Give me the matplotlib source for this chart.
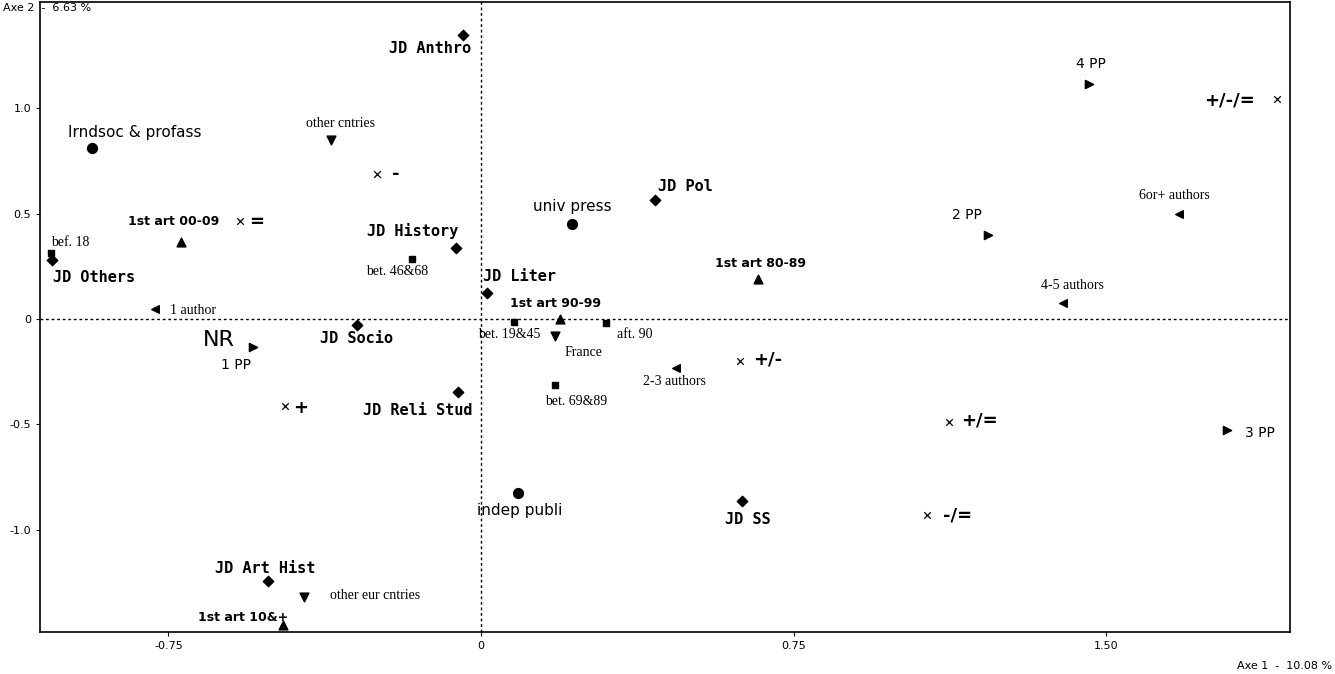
import matplotlib
matplotlib.use("Agg")
import matplotlib.pyplot as plt

# ---- data ----
circle_labels = ["Irndsoc & profass", "univ press", "indep publi"]
circle_x = [-0.933, 0.218, 0.089]
circle_y = [0.813, 0.449, -0.823]

diamond_labels = ["JD Anthro", "JD Pol", "JD History", "JD Others", "JD Liter", "JD Socio",
                  "JD Reli Stud", "JD SS", "JD Art Hist"]
diamond_x = [-0.043, 0.417, -0.060, -1.029, 0.014, -0.297, -0.055, 0.626, -0.511]
diamond_y = [1.348, 0.563, 0.336, 0.279, 0.123, -0.028, -0.345, -0.861, -1.243]

square_labels = ["bef. 18", "bet. 46&68", "bet. 19&45", "aft. 90", "bet. 69&89"]
square_x = [-1.031, -0.165, 0.079, 0.300, 0.177]
square_y = [0.312, 0.284, -0.014, -0.019, -0.312]

up_labels = ["1st art 00-09", "1st art 80-89", "1st art 90-99", "1st art 10&+"]
up_x = [-0.719, 0.664, 0.189, -0.475]
up_y = [0.364, 0.189, 0.000, -1.452]

down_labels = ["other cntries", "France", "other eur cntries"]
down_x = [-0.360, 0.177, -0.424]
down_y = [0.851, -0.080, -1.319]

right_labels = ["4 PP", "2 PP", "3 PP", "1 PP"]
right_x = [1.458, 1.216, 1.789, -0.547]
right_y = [1.116, 0.397, -0.525, -0.132]

left_labels = ["6or+ authors", "4-5 authors", "2-3 authors", "1 author"]
left_x = [1.674, 1.396, 0.468, -0.782]
left_y = [0.496, 0.076, -0.232, 0.047]

cross_labels = ["+/-/=", "-", "=", "+/-", "+", "+/=", "-/="]
cross_x = [1.909, -0.249, -0.578, 0.621, -0.470, 1.122, 1.070]
cross_y = [1.045, 0.686, 0.463, -0.199, -0.411, -0.487, -0.931]

nr_label = "NR"
nr_x, nr_y = [-0.630], [-0.100]

xticks = [-0.75, 0, 0.75, 1.50]
xticklabels = ["-0.75", "0", "0.75", "1.50"]
yticks = [1.0, 0.5, 0, -0.5, -1.0]
yticklabels = ["1.0", "0.5", "0", "-0.5", "-1.0"]

# ---- styles / offsets (pixels) ----
circle_off = [(43, 15), (0, 18), (2, -18)]
diamond_off = [(-33, -14), (31, 14), (-43, 17), (42, -17), (33, 17), (-1, -14), (-40, -19), (6, -19), (-3, 13)]
square_off = [(19, 11), (-15, -12), (-5, -13), (29, -11), (21, -17)]
up_off = [(-8, 21), (3, 16), (-4, 16), (-40, 8)]
down_off = [(10, 16), (29, -17), (71, 2)]
right_off = [(2, 20), (-21, 20), (33, -3), (-17, -18)]
left_off = [(-4, 19), (10, 17), (-2, -14), (38, -1)]
cross_off = [(-47, -2), (19, 0), (17, -1), (28, 1), (15, -2), (31, 1), (31, 0)]

fig = plt.figure(figsize=(13.35, 6.74), dpi=100)
ax = fig.add_axes([0.030, 0.062, 0.936, 0.935])
ax.set_xlim(-1.058, 1.94)
ax.set_ylim(-1.485, 1.503)
ax.axhline(0, color="black", ls=(0, (2, 2)), lw=1)
ax.axvline(0, color="black", ls=(0, (2, 2)), lw=1)

def lab(xs, ys, labels, offs, **kw):
    for x, y, t, o in zip(xs, ys, labels, offs):
        ax.annotate(t, (x, y), xytext=o, textcoords="offset pixels",
                    ha="center", va="center", **kw)

serif = dict(family="Liberation Serif", fontsize=10)
mono = dict(family="DejaVu Sans Mono", fontsize=11, fontweight="bold")
sans = dict(family="DejaVu Sans", fontsize=11)

ax.scatter(circle_x, circle_y, marker="o", s=50, c="black")
lab(circle_x, circle_y, circle_labels, circle_off, **sans)
ax.scatter(diamond_x, diamond_y, marker="D", s=28, c="black")
lab(diamond_x, diamond_y, diamond_labels, diamond_off, **mono)
ax.scatter(square_x, square_y, marker="s", s=14, c="black")
lab(square_x, square_y, square_labels, square_off, **serif)
ax.scatter(up_x, up_y, marker="^", s=40, c="black")
lab(up_x, up_y, up_labels, up_off, family="DejaVu Sans Condensed", fontsize=9, fontweight="bold")
ax.scatter(down_x, down_y, marker="v", s=40, c="black")
lab(down_x, down_y, down_labels, down_off, **serif)
ax.scatter(right_x, right_y, marker=">", s=35, c="black")
lab(right_x, right_y, right_labels, right_off, family="DejaVu Sans", fontsize=10)
ax.scatter(left_x, left_y, marker="<", s=30, c="black")
lab(left_x, left_y, left_labels, left_off, **serif)
ax.scatter(cross_x, cross_y, marker="x", s=22, c="black", linewidths=0.9)
lab(cross_x, cross_y, cross_labels, cross_off, family="DejaVu Sans", fontsize=13, fontweight="bold")
ax.text(nr_x[0], nr_y[0], nr_label, fontsize=16, ha="center", va="center")

ax.set_xticks(xticks)
ax.set_xticklabels(xticklabels, fontsize=8)
ax.set_yticks(yticks)
ax.set_yticklabels(yticklabels, fontsize=8)
ax.tick_params(length=3)
for s in ax.spines.values():
    s.set_linewidth(1.2)
fig.text(0.002, 0.995, "Axe 2  -  6.63 %", fontsize=8, va="top")
fig.text(0.998, 0.005, "Axe 1  -  10.08 %", fontsize=8, ha="right", va="bottom")
fig.savefig("out.png", dpi=100)
